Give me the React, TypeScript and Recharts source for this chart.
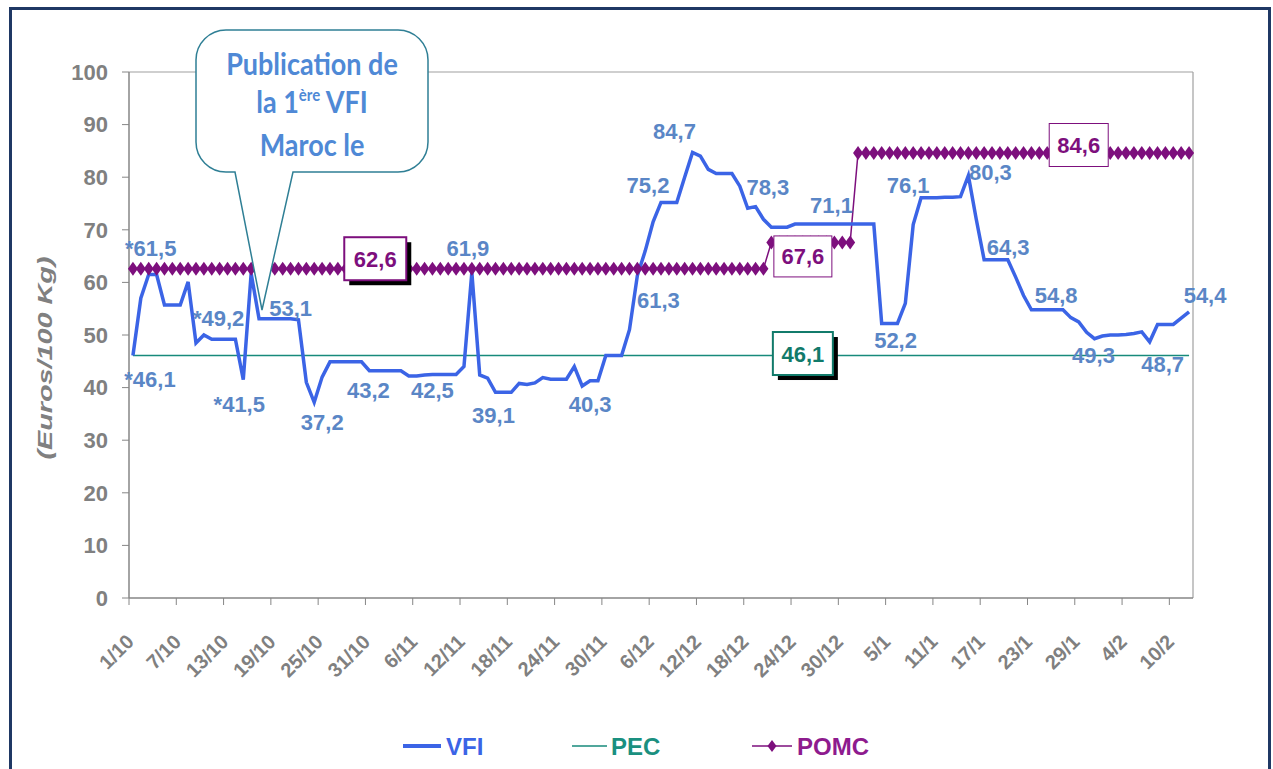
import React from 'react'
import { LineChart, Line, XAxis, YAxis, ReferenceLine, LabelList } from 'recharts'

// tick labels, one every 6 days starting 1/10
const xTickLabels = [
  '1/10', '7/10', '13/10', '19/10', '25/10', '31/10', '6/11', '12/11', '18/11', '24/11', '30/11', '6/12',
  '12/12', '18/12', '24/12', '30/12', '5/1', '11/1', '17/1', '23/1', '29/1', '4/2', '10/2',
]

// daily values, 1/10 .. 12/2
const vfi = [
  46.1, 57, 61.5, 61.5, 55.7, 55.7, 55.7, 60.1, 48.5, 50,
  49.2, 49.2, 49.2, 49.2, 41.5, 61.7, 53.1, 53.1, 53.1, 53.1,
  53.1, 52.9, 41, 37.2, 42, 44.9, 44.9, 44.9, 44.9, 44.9,
  43.2, 43.2, 43.2, 43.2, 43.2, 42.2, 42.2, 42.4, 42.5, 42.5,
  42.5, 42.5, 44, 61.9, 42.4, 41.8, 39.1, 39.1, 39.1, 40.8,
  40.6, 40.9, 41.9, 41.6, 41.6, 41.6, 44, 40.3, 41.3, 41.3,
  46.1, 46.1, 46.1, 51, 61.3, 66, 71.5, 75.2, 75.2, 75.2,
  80, 84.7, 84, 81.5, 80.7, 80.7, 80.7, 78.3, 74.1, 74.4,
  72, 70.5, 70.5, 70.5, 71.1, 71.1, 71.1, 71.1, 71.1, 71.1,
  71.1, 71.1, 71.1, 71.1, 71.1, 52.2, 52.2, 52.2, 56, 71,
  76.1, 76.1, 76.1, 76.2, 76.2, 76.3, 80.3, 72, 64.3, 64.3,
  64.3, 64.3, 61, 57.5, 54.8, 54.8, 54.8, 54.8, 54.8, 53.3,
  52.5, 50.5, 49.3, 49.8, 50, 50, 50.1, 50.3, 50.6, 48.7,
  52, 52, 52, 53.2, 54.4,
]

const pec = [
  46.1, 46.1, 46.1, 46.1, 46.1, 46.1, 46.1, 46.1, 46.1, 46.1,
  46.1, 46.1, 46.1, 46.1, 46.1, 46.1, 46.1, 46.1, 46.1, 46.1,
  46.1, 46.1, 46.1, 46.1, 46.1, 46.1, 46.1, 46.1, 46.1, 46.1,
  46.1, 46.1, 46.1, 46.1, 46.1, 46.1, 46.1, 46.1, 46.1, 46.1,
  46.1, 46.1, 46.1, 46.1, 46.1, 46.1, 46.1, 46.1, 46.1, 46.1,
  46.1, 46.1, 46.1, 46.1, 46.1, 46.1, 46.1, 46.1, 46.1, 46.1,
  46.1, 46.1, 46.1, 46.1, 46.1, 46.1, 46.1, 46.1, 46.1, 46.1,
  46.1, 46.1, 46.1, 46.1, 46.1, 46.1, 46.1, 46.1, 46.1, 46.1,
  46.1, 46.1, 46.1, 46.1, 46.1, 46.1, 46.1, 46.1, 46.1, 46.1,
  46.1, 46.1, 46.1, 46.1, 46.1, 46.1, 46.1, 46.1, 46.1, 46.1,
  46.1, 46.1, 46.1, 46.1, 46.1, 46.1, 46.1, 46.1, 46.1, 46.1,
  46.1, 46.1, 46.1, 46.1, 46.1, 46.1, 46.1, 46.1, 46.1, 46.1,
  46.1, 46.1, 46.1, 46.1, 46.1, 46.1, 46.1, 46.1, 46.1, 46.1,
  46.1, 46.1, 46.1, 46.1, 46.1,
]

const pomc = [
  62.6, 62.6, 62.6, 62.6, 62.6, 62.6, 62.6, 62.6, 62.6, 62.6,
  62.6, 62.6, 62.6, 62.6, 62.6, 62.6, 62.6, 62.6, 62.6, 62.6,
  62.6, 62.6, 62.6, 62.6, 62.6, 62.6, 62.6, 62.6, 62.6, 62.6,
  62.6, 62.6, 62.6, 62.6, 62.6, 62.6, 62.6, 62.6, 62.6, 62.6,
  62.6, 62.6, 62.6, 62.6, 62.6, 62.6, 62.6, 62.6, 62.6, 62.6,
  62.6, 62.6, 62.6, 62.6, 62.6, 62.6, 62.6, 62.6, 62.6, 62.6,
  62.6, 62.6, 62.6, 62.6, 62.6, 62.6, 62.6, 62.6, 62.6, 62.6,
  62.6, 62.6, 62.6, 62.6, 62.6, 62.6, 62.6, 62.6, 62.6, 62.6,
  62.6, 67.6, 67.6, 67.6, 67.6, 67.6, 67.6, 67.6, 67.6, 67.6,
  67.6, 67.6, 84.6, 84.6, 84.6, 84.6, 84.6, 84.6, 84.6, 84.6,
  84.6, 84.6, 84.6, 84.6, 84.6, 84.6, 84.6, 84.6, 84.6, 84.6,
  84.6, 84.6, 84.6, 84.6, 84.6, 84.6, 84.6, 84.6, 84.6, 84.6,
  84.6, 84.6, 84.6, 84.6, 84.6, 84.6, 84.6, 84.6, 84.6, 84.6,
  84.6, 84.6, 84.6, 84.6, 84.6,
]

const data = vfi.map((v, i) => ({ i, vfi: v, pec: pec[i], pomc: pomc[i] }))

const xTicks = xTickLabels.map((_, k) => k * 6 - 0.5)
const yTicks = [0, 10, 20, 30, 40, 50, 60, 70, 80, 90, 100]

// which VFI points get a value label, starred ones are provisional
const vfiLabelIdx = [0, 2, 11, 14, 20, 23, 30, 38, 43, 46, 57, 64, 67, 71, 77, 88, 96, 100, 106, 108, 117, 122, 129, 134]
const starred = [0, 2, 11, 14]

// label placement: [dx, baseline dy] from the point
const vfiLabelPos: Record<number, [number, number]> = {
  0: [17, 31], 2: [2, -19], 11: [-1, -13], 14: [-4, 32], 20: [0, -3], 23: [8, 28],
  30: [-1, 27], 38: [0, 24], 43: [-4, -16], 46: [-2, 31], 57: [8, 26], 64: [21, 32],
  67: [-13, -9], 71: [-18, -13], 77: [28, 9], 88: [5, -11], 96: [6, 25], 100: [-13, -5],
  106: [22, 4], 108: [24, -5], 117: [1, -7], 122: [-1, 24], 129: [13, 30], 134: [16, -9],
}

// boxed level labels: index -> placement
const pomcBoxes: Record<number, { dx: number; dy: number; w: number; h: number; sw: number; shadow: boolean }> = {
  31: { dx: -2, dy: -10, w: 62, h: 43, sw: 2, shadow: true },
  85: { dx: 0, dy: 14, w: 58, h: 41, sw: 1, shadow: false },
  120: { dx: 0, dy: -8, w: 59, h: 43, sw: 1, shadow: false },
}
const pecBoxes: Record<number, { dx: number; dy: number; w: number; h: number; sw: number; shadow: boolean }> = {
  85: { dx: 0, dy: -2, w: 60, h: 43, sw: 2, shadow: true },
}

const FONT = '"Liberation Sans", Arial, sans-serif'
const BLUE = '#3b64e6'
const LABEL_BLUE = '#5a86c6'
const TEAL = '#178a7b'
const PURPLE = '#7d0f7d'
const GREY = '#808080'

const fmt = (v: number) => v.toFixed(1).replace('.', ',')

const VfiLabel = (props: any) => {
  const { index, value } = props
  if (!vfiLabelIdx.includes(index)) return null
  const pos = vfiLabelPos[index]
  const x = props.x ?? props.viewBox?.x
  const y = props.y ?? props.viewBox?.y
  return (
    <text x={x + pos[0]} y={y + pos[1]} textAnchor="middle" fill={LABEL_BLUE} fontSize={22} fontWeight="bold" fontFamily={FONT}>
      {(starred.includes(index) ? '*' : '') + fmt(value)}
    </text>
  )
}

const boxLabel = (boxes: typeof pomcBoxes, color: string) => (props: any) => {
  const { index, value } = props
  const b = boxes[index]
  if (!b) return null
  const x = (props.x ?? props.viewBox?.x) + b.dx
  const y = (props.y ?? props.viewBox?.y) + b.dy
  return (
    <g>
      {b.shadow && <rect x={x - b.w / 2 + 5} y={y - b.h / 2 + 5} width={b.w} height={b.h} fill="#000" />}
      <rect x={x - b.w / 2} y={y - b.h / 2} width={b.w} height={b.h} fill="#fff" stroke={color} strokeWidth={b.sw} />
      <text x={x} y={y + 8} textAnchor="middle" fill={color} fontSize={22} fontWeight="bold" fontFamily={FONT}>
        {fmt(value)}
      </text>
    </g>
  )
}

const Diamond = (props: any) => {
  const { cx, cy, index } = props
  if (cx == null || cy == null) return <g key={`pd-${index}`} />
  return <path key={`pd-${index}`} d={`M${cx},${cy - 7}L${cx + 5},${cy}L${cx},${cy + 7}L${cx - 5},${cy}Z`} fill={PURPLE} />
}

const XTick = (props: any) => {
  const { x, y, payload } = props
  const k = Math.round((payload.value + 0.5) / 6)
  const ex = x + 6
  const ey = y + 36
  return (
    <text x={ex} y={ey} transform={`rotate(-45 ${ex} ${ey})`} textAnchor="end" fill={GREY} fontSize={20} fontWeight="bold" fontFamily={FONT}>
      {xTickLabels[k]}
    </text>
  )
}

export default function App() {
  return (
    <div style={{ position: 'absolute', left: 0, top: 0, width: 1273, height: 769, overflow: 'hidden', background: '#fff' }}>
      <LineChart width={1273} height={769} data={data} margin={{ top: 72, right: 80, bottom: 111, left: 0 }}>
        <XAxis
          type="number"
          dataKey="i"
          domain={[-0.5, 134.5]}
          ticks={xTicks}
          interval={0}
          height={60}
          tick={<XTick />}
          tickLine={{ stroke: '#868686' }}
          axisLine={{ stroke: '#868686', strokeWidth: 1.5 }}
          tickSize={7}
        />
        <YAxis
          domain={[0, 100]}
          ticks={yTicks}
          interval={0}
          width={129}
          tickMargin={14}
          tickSize={7}
          tick={{ fill: GREY, fontSize: 22, fontWeight: 'bold', fontFamily: FONT }}
          tickLine={{ stroke: '#868686' }}
          axisLine={{ stroke: '#868686', strokeWidth: 1.5 }}
        />
        <ReferenceLine y={100} stroke="#a0a0a0" strokeWidth={1.2} />
        <ReferenceLine x={134.5} stroke="#a0a0a0" strokeWidth={1.2} />
        <Line
          dataKey="pomc"
          type="linear"
          stroke={PURPLE}
          strokeWidth={1.5}
          dot={Diamond}
          activeDot={false}
          isAnimationActive={false}
        >
          <LabelList dataKey="pomc" content={boxLabel(pomcBoxes, PURPLE)} />
        </Line>
        <Line dataKey="pec" type="linear" stroke={TEAL} strokeWidth={1.5} dot={false} activeDot={false} isAnimationActive={false}>
          <LabelList dataKey="pec" content={boxLabel(pecBoxes, '#117a6a')} />
        </Line>
        <Line dataKey="vfi" type="linear" stroke={BLUE} strokeWidth={3.5} dot={false} activeDot={false} isAnimationActive={false}>
          <LabelList dataKey="vfi" content={VfiLabel} />
        </Line>
      </LineChart>

      <svg width={1273} height={769} style={{ position: 'absolute', left: 0, top: 0, pointerEvents: 'none' }}>
        <rect x={10.5} y={8.5} width={1259} height={800} fill="none" stroke="#1f3864" strokeWidth={3} />

        {/* callout */}
        <path
          d="M226,30 H398 A30,30 0 0 1 428,60 V142 A30,30 0 0 1 398,172 H293 L262,310 L235,172 H226 A30,30 0 0 1 196,142 V60 A30,30 0 0 1 226,30 Z"
          fill="#ffffff"
          stroke="#2f7f95"
          strokeWidth={1.5}
        />
        <g fill="#4f89d6" fontFamily="Lato, 'Open Sans', sans-serif" fontWeight={700} textAnchor="middle">
          <text transform="translate(312 75) scale(1 1.1)" fontSize={27}>Publication de</text>
          <text transform="translate(312 113) scale(1 1.1)" fontSize={27}>
            la 1<tspan fontSize={15} dy={-11}>ère</tspan>
            <tspan dy={11}> VFI</tspan>
          </text>
          <text transform="translate(312 156) scale(1 1.1)" fontSize={27}>Maroc le</text>
        </g>

        {/* y axis title */}
        <text
          transform="translate(52 358) rotate(-90)"
          textAnchor="middle"
          fontStyle="italic"
          fontWeight="bold"
          fontSize={20}
          fill={GREY}
          fontFamily={FONT}
          textLength={203}
          lengthAdjust="spacingAndGlyphs"
        >
          (Euros/100 Kg)
        </text>

        {/* legend */}
        <g fontFamily={FONT} fontWeight="bold" fontSize={24}>
          <line x1={403} y1={746} x2={441} y2={746} stroke={BLUE} strokeWidth={4} />
          <text x={446} y={755} fill={BLUE}>VFI</text>
          <line x1={572} y1={746} x2={607} y2={746} stroke={TEAL} strokeWidth={1.5} />
          <text x={611} y={755} fill="#1a9080">PEC</text>
          <line x1={752} y1={746} x2={792} y2={746} stroke={PURPLE} strokeWidth={1.5} />
          <path d="M772,740 L776.5,746 L772,752 L767.5,746 Z" fill={PURPLE} />
          <text x={797} y={755} fill="#8e1b8e">POMC</text>
        </g>
      </svg>
    </div>
  )
}
